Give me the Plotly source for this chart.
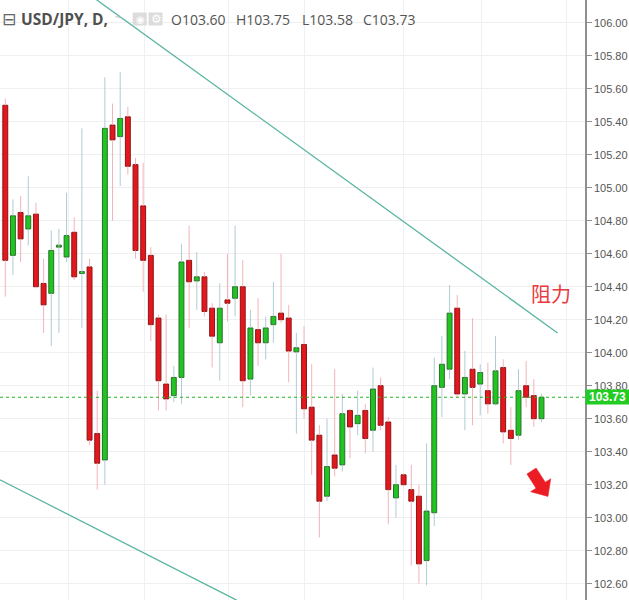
import plotly.graph_objects as go
import numpy as np

# ---------------- data ----------------
opens = [105.50, 104.59, 104.85, 104.75, 104.84, 104.42, 104.36, 104.64, 104.58, 104.73,
         104.48, 104.52, 103.51, 103.35, 105.38, 105.31, 105.43, 105.14, 104.89, 104.59,
         104.21, 103.81, 103.74, 103.85, 104.56, 104.435, 104.46, 104.27, 104.06, 104.32,
         104.33, 104.40, 103.84, 104.14, 104.06, 104.17, 104.24, 104.21, 104.005, 104.05,
         103.67, 103.50, 103.13, 103.38, 103.32, 103.65, 103.57, 103.65, 103.53, 103.80,
         103.58, 103.12, 103.26, 103.17, 103.13, 102.74, 103.03, 103.79, 103.90, 104.27,
         103.75, 103.90, 103.81, 103.77, 103.69, 103.91, 103.53, 103.50, 103.80, 103.74,
         103.60]
highs = [105.54, 104.93, 104.95, 105.07, 104.91, 104.57, 104.74, 104.75, 104.97, 104.82,
         105.36, 104.57, 103.77, 105.67, 105.51, 105.70, 105.49, 105.18, 105.15, 104.64,
         104.23, 104.23, 103.92, 104.66, 104.77, 104.61, 104.49, 104.30, 104.42, 104.60,
         104.77, 104.56, 104.26, 104.33, 104.22, 104.43, 104.60, 104.29, 104.12, 104.16,
         103.93, 103.56, 103.60, 103.90, 103.75, 103.66, 103.77, 103.69, 103.91, 103.85,
         103.61, 103.32, 103.27, 103.32, 103.20, 103.45, 103.97, 104.10, 104.41, 104.35,
         104.01, 104.21, 103.93, 103.94, 104.10, 103.96, 103.67, 103.90, 103.95, 103.84,
         103.75]
lows = [104.34, 104.47, 104.55, 104.65, 104.39, 104.12, 104.04, 104.12, 104.55, 104.44,
        104.15, 103.44, 103.17, 103.20, 104.80, 105.01, 105.08, 104.57, 104.37, 104.07,
        103.65, 103.65, 103.70, 103.69, 104.15, 104.26, 104.22, 103.91, 103.83, 104.19,
        104.22, 103.67, 103.74, 103.92, 103.96, 104.06, 104.18, 103.82, 103.51, 103.60,
        103.26, 102.88, 103.10, 103.25, 103.28, 103.36, 103.50, 103.39, 103.40, 103.53,
        102.96, 103.00, 103.19, 102.71, 102.60, 102.59, 102.95, 103.61, 103.84, 103.73,
        103.53, 103.56, 103.62, 103.63, 103.68, 103.45, 103.32, 103.47, 103.67, 103.55,
        103.58]
closes = [104.56, 104.83, 104.69, 104.83, 104.40, 104.29, 104.62, 104.645, 104.71, 104.46,
          104.485, 103.47, 103.33, 105.36, 105.29, 105.42, 105.13, 104.62, 104.56, 104.17,
          103.83, 103.72, 103.85, 104.55, 104.43, 104.46, 104.25, 104.10, 104.27, 104.30,
          104.40, 103.83, 104.15, 104.06, 104.15, 104.22, 104.20, 104.01, 104.03, 103.66,
          103.47, 103.10, 103.31, 103.30, 103.63, 103.55, 103.62, 103.48, 103.78, 103.56,
          103.17, 103.20, 103.20, 103.10, 102.72, 103.04, 103.80, 103.93, 104.24, 103.75,
          103.85, 103.79, 103.88, 103.69, 103.89, 103.52, 103.48, 103.77, 103.73, 103.60,
          103.73]

# trend lines (candle index, price)
resist_x = [11.9, 72.1]
resist_y = [106.14, 104.12]
support_x = [-0.7, 30.2]
support_y = [103.23, 102.50]

# vertical (date) grid positions in candle index units
date_grid = [8.2, 18.2, 29.1, 39.1, 52.05, 62.2, 73.2]

symbol = "USD/JPY, D,"
last_o, last_h, last_l, last_c = opens[-1], highs[-1], lows[-1], closes[-1]

# ---------------- styling ----------------
RED_FILL, RED_EDGE, RED_WICK = "#e4171e", "#8c1414", "#f3b3ba"
GRN_FILL, GRN_EDGE, GRN_WICK = "#21c521", "#2a6f2a", "#b0cbd2"
TEAL = "#5bb5a2"

n = len(opens)
idx = np.arange(n)
o = np.array(opens); h = np.array(highs); l = np.array(lows); c = np.array(closes)
up = c >= o
top = np.maximum(o, c)
bot = np.minimum(o, c)
height = np.maximum(top - bot, 0.012)

fig = go.Figure()

# wicks (segments outside body)
for mask, col in [(~up, RED_WICK), (up, GRN_WICK)]:
    xs, ys = [], []
    for i in idx[mask]:
        xs += [i, i, None, i, i, None]
        ys += [h[i], top[i], None, bot[i], l[i], None]
    fig.add_trace(go.Scatter(x=xs, y=ys, mode="lines",
                             line=dict(color=col, width=1),
                             hoverinfo="skip", showlegend=False))

fig.add_trace(go.Bar(
    x=idx, y=height, base=bot, width=0.64,
    marker=dict(color=[GRN_FILL if u else RED_FILL for u in up],
                line=dict(color=[GRN_EDGE if u else RED_EDGE for u in up], width=1)),
    hoverinfo="skip", showlegend=False))

fig.add_trace(go.Scatter(x=resist_x, y=resist_y, mode="lines",
                         line=dict(color=TEAL, width=1.3), hoverinfo="skip", showlegend=False))
fig.add_trace(go.Scatter(x=support_x, y=support_y, mode="lines",
                         line=dict(color=TEAL, width=1.3), hoverinfo="skip", showlegend=False))

# price line
fig.add_shape(type="line", xref="paper", x0=0, x1=1, yref="y", y0=last_c, y1=last_c,
              line=dict(color="#22b522", width=1, dash="dot"))

PLOT_W, PLOT_H = 585, 600

# red arrow (pixel geometry -> paper)
T = np.array([531.5, 471.0]); P = np.array([548.0, 496.5])
d = (P - T) / np.linalg.norm(P - T)
nrm = np.array([d[1], -d[0]])
H = P - d * 13.5
pts = [T + nrm * 5.5, H + nrm * 5.5, H + nrm * 12, P, H - nrm * 12, H - nrm * 5.5, T - nrm * 5.5]
path = "M " + " L ".join(f"{px / PLOT_W:.5f},{1 - py / PLOT_H:.5f}" for px, py in pts) + " Z"
fig.add_shape(type="path", xref="paper", yref="paper", path=path,
              fillcolor="#ec1c24", line=dict(color="#ec1c24", width=0.5))

# header icons
fig.add_shape(type="rect", xref="paper", yref="paper",
              x0=132.7 / PLOT_W, x1=146.7 / PLOT_W, y0=1 - 25.5 / PLOT_H, y1=1 - 12.5 / PLOT_H,
              fillcolor="#dcdcdc", line=dict(width=0))
fig.add_shape(type="rect", xref="paper", yref="paper",
              x0=148.5 / PLOT_W, x1=162.5 / PLOT_W, y0=1 - 25.5 / PLOT_H, y1=1 - 12.5 / PLOT_H,
              fillcolor="#dcdcdc", line=dict(width=0))

def hdr(text, xpx, size=13, color="#555555", weight="normal", family="Open Sans", ypx=19):
    fig.add_annotation(xref="paper", yref="paper", x=0, y=1, xanchor="left", yanchor="middle",
                       xshift=xpx, yshift=-ypx, showarrow=False, text=text,
                       font=dict(size=size, color=color, family=family, weight=weight))

hdr("⊟", 0, size=17, color="#666666", family="DejaVu Sans")
hdr(symbol, 19, size=15.5, color="#505050", weight="bold")
hdr("~", 113, size=10, color="#bbbbbb", ypx=17)
hdr("◉", 133.5, size=10, color="#ffffff", family="DejaVu Sans")
hdr("⚙", 148.5, size=12, color="#ffffff", family="DejaVu Sans")
hdr(f"O{last_o:.2f}", 169, size=14)
hdr(f"H{last_h:.2f}", 234, size=14)
hdr(f"L{last_l:.2f}", 300, size=14)
hdr(f"C{last_c:.2f}", 361, size=14)

# resistance label
fig.add_annotation(x=71.3, y=104.356, xref="x", yref="y", text="阻力", showarrow=False,
                   font=dict(size=20, color="#e83a3f", family="Noto Sans CJK SC"))

# current price tag
fig.add_annotation(xref="paper", x=1, xanchor="left", xshift=0, yref="y", y=last_c,
                   yanchor="middle", text=f"<b>{last_c:.2f}</b>", showarrow=False,
                   bgcolor="#22cc22", width=41, height=12, borderpad=1,
                   font=dict(size=12, color="#ffffff", family="Liberation Sans"))

fig.update_layout(
    width=629, height=600,
    margin=dict(l=0, r=44, t=0, b=0),
    paper_bgcolor="#ffffff", plot_bgcolor="#ffffff",
    barmode="overlay", hovermode=False, showlegend=False,
    xaxis=dict(range=[-0.69, 75.68], showticklabels=False, ticks="",
               tickmode="array", tickvals=date_grid, showgrid=True,
               gridcolor="#eef1f3", gridwidth=1, zeroline=False, showline=False,
               fixedrange=True),
    yaxis=dict(side="right", range=[102.501, 106.138], tickmode="linear", tick0=100, dtick=0.2,
               tickformat=".2f", ticks="outside", ticklen=5, tickcolor="#8f8f8f",
               showline=True, linecolor="#8f8f8f", linewidth=1.5,
               showgrid=True, gridcolor="#efefef", gridwidth=1, zeroline=False,
               tickfont=dict(size=11, color="#555555", family="Liberation Sans"),
               fixedrange=True),
)

fig.write_html("out.html", config={"displayModeBar": False},
               post_script="document.body.style.margin='0';document.body.style.overflow='hidden';")
